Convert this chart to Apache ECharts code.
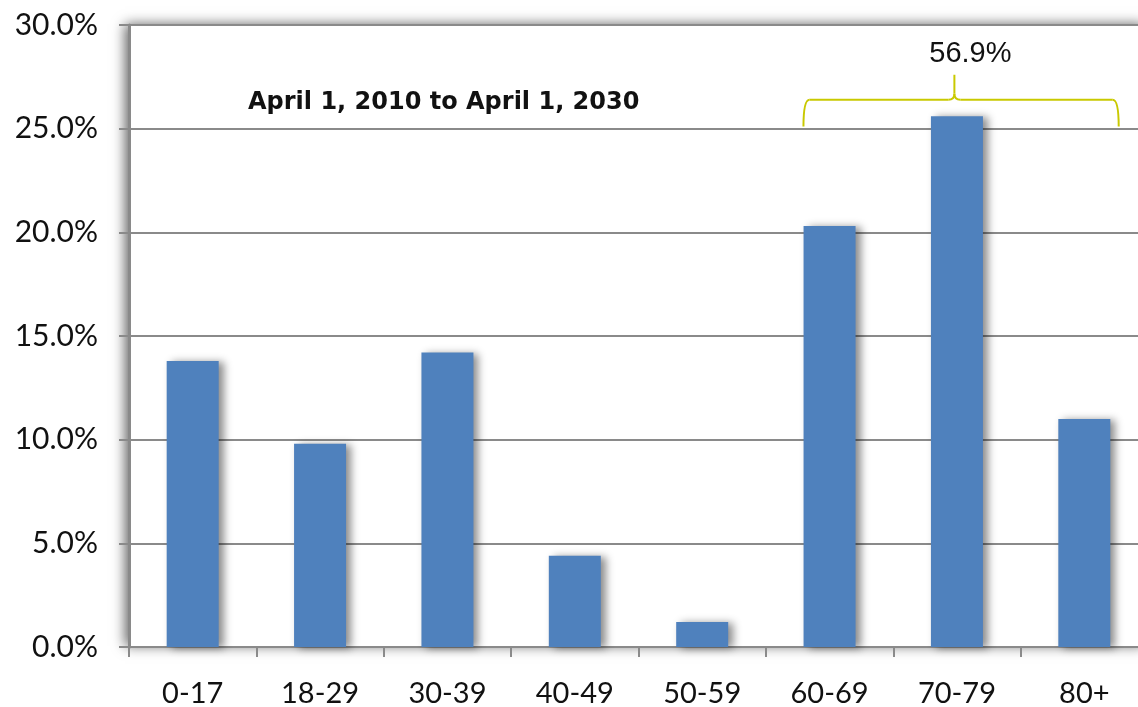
<!DOCTYPE html>
<html>
<head>
<meta charset="utf-8">
<script src="https://cdn.jsdelivr.net/npm/echarts@6/dist/echarts.min.js"></script>
<style>
  html, body { margin: 0; padding: 0; background: #fff; }
  #chart { width: 1138px; height: 707px; }
</style>
</head>
<body>
<div id="chart"></div>
<script>
// age groups on the x axis
var ageGroups = ["0-17", "18-29", "30-39", "40-49", "50-59", "60-69", "70-79", "80+"];
// percent change, April 1, 2010 to April 1, 2030
var growthPct = [13.8, 9.8, 14.2, 4.4, 1.2, 20.3, 25.6, 11.0];
var yTicks = { min: 0, max: 30, interval: 5 };
var periodLabel = "April 1, 2010 to April 1, 2030";
var bracketLabel = "56.9%";

var chart = echarts.init(document.getElementById("chart"));

var option = {
  backgroundColor: "#fff",
  animation: false,
  grid: {
    left: 129,
    width: 1019,
    top: 25,
    bottom: 60,
    outerBoundsMode: "none",
    show: true,
    backgroundColor: "#fff",
    borderWidth: 0,
    shadowColor: "rgba(0,0,0,0.6)",
    shadowBlur: 12,
    shadowOffsetX: -4,
    shadowOffsetY: -1
  },
  xAxis: {
    type: "category",
    data: ageGroups,
    axisLine: { lineStyle: { color: "#8a8a8a", width: 2 } },
    axisTick: { show: true, length: 10, lineStyle: { color: "#8a8a8a", width: 2 } },
    axisLabel: {
      margin: 32,
      color: "#111",
      fontFamily: "Lato",
      fontSize: 29
    }
  },
  yAxis: {
    type: "value",
    min: yTicks.min,
    max: yTicks.max,
    interval: yTicks.interval,
    axisLine: { show: true, lineStyle: { color: "#8a8a8a", width: 3 } },
    axisTick: { show: true, length: 10, lineStyle: { color: "#8a8a8a", width: 2 } },
    splitLine: { lineStyle: { color: "#8a8a8a", width: 2 } },
    axisLabel: {
      margin: 31,
      color: "#111",
      fontFamily: "Lato",
      fontSize: 30,
      formatter: function (v) { return v.toFixed(1) + "%"; }
    }
  },
  series: [
    {
      type: "bar",
      data: growthPct,
      barWidth: 52,
      itemStyle: {
        color: "#4f81bd",
        shadowColor: "rgba(0,0,0,0.45)",
        shadowBlur: 8,
        shadowOffsetX: 5,
        shadowOffsetY: 1
      }
    }
  ]
};

chart.setOption(option);

// bracket over the 60+ groups, placed from axis coordinates
function drawBracket() {
  var c5 = chart.convertToPixel({ gridIndex: 0 }, [5, 0]);
  var c6 = chart.convertToPixel({ gridIndex: 0 }, [6, 0]);
  var c7 = chart.convertToPixel({ gridIndex: 0 }, [7, 0]);
  var band = c6[0] - c5[0];
  var xL = c5[0] - 0.205 * band;
  var xR = c7[0] + 0.27 * band;
  var xM = c6[0] - 0.02 * band;
  var yBase = chart.convertToPixel({ gridIndex: 0 }, [0, 25.1])[1];
  var yH = chart.convertToPixel({ gridIndex: 0 }, [0, 26.4])[1];
  var yTip = chart.convertToPixel({ gridIndex: 0 }, [0, 27.6])[1];
  var textY = chart.convertToPixel({ gridIndex: 0 }, [0, 28.6])[1];
  var r = 6;
  var stroke = { stroke: "#c9c900", lineWidth: 2, fill: null };

  var curve = function (x1, y1, cx, cy, x2, y2) {
    return {
      type: "bezierCurve",
      shape: { x1: x1, y1: y1, cpx1: cx, cpy1: cy, x2: x2, y2: y2 },
      style: stroke,
      z: 10
    };
  };
  var line = function (x1, y1, x2, y2) {
    return {
      type: "line",
      shape: { x1: x1, y1: y1, x2: x2, y2: y2 },
      style: stroke,
      z: 10
    };
  };

  chart.setOption({
    graphic: [
      curve(xL, yBase, xL, yH, xL + r, yH),
      line(xL + r, yH, xM - r, yH),
      curve(xM - r, yH, xM, yH, xM, yH - r),
      line(xM, yH - r, xM, yTip),
      curve(xM, yH - r, xM, yH, xM + r, yH),
      line(xM + r, yH, xR - r, yH),
      curve(xR - r, yH, xR, yH, xR, yBase),
      {
        type: "text",
        x: xM + 16,
        y: textY,
        style: {
          text: bracketLabel,
          fill: "#111",
          font: "29px 'Liberation Sans', Arial, sans-serif",
          align: "center",
          verticalAlign: "middle"
        },
        z: 10
      },
      {
        type: "text",
        left: 248,
        top: 91,
        style: {
          text: periodLabel,
          fill: "#111",
          font: "bold 24px 'DejaVu Sans', sans-serif"
        },
        z: 10
      }
    ]
  });
}
drawBracket();
</script>
</body>
</html>
